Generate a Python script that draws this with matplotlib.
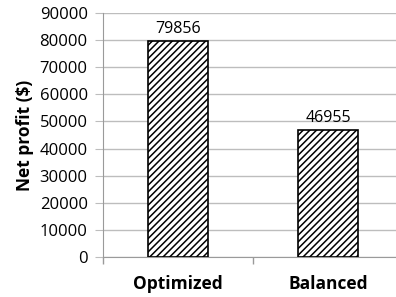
import matplotlib.pyplot as plt
from matplotlib.ticker import MultipleLocator, FixedLocator

plt.rcParams['font.family'] = ['Open Sans', 'DejaVu Sans']
plt.rcParams['hatch.linewidth'] = 1.1

categories = ['Optimized', 'Balanced']
profits = [79856, 46955]

fig = plt.figure(figsize=(3.96, 2.97), dpi=100)
ax = fig.add_axes([0.260, 0.1347, 0.758, 0.8215])

x = range(len(categories))
bars = ax.bar(x, profits, width=0.4, color='white', edgecolor='black',
              linewidth=1.2, hatch='/////', zorder=3)

for xi, v in zip(x, profits):
    ax.text(xi, v + 1200, str(v), ha='center', va='bottom', fontsize=11.5)

ax.set_xlim(-0.5, 1.5)
ax.set_ylim(0, 90000)
ax.yaxis.set_major_locator(MultipleLocator(10000))
ax.yaxis.grid(True, color='#bdbdbd', linewidth=1.0, zorder=0)

ax.set_xticks(list(x))
ax.set_xticklabels(categories, fontsize=12.5, fontweight='bold')
ax.xaxis.set_minor_locator(FixedLocator([-0.5, 0.5, 1.5]))
ax.tick_params(axis='x', which='major', length=0, pad=13)
ax.tick_params(axis='x', which='minor', length=5, color='#9a9a9a', width=1.0)
ax.tick_params(axis='y', length=6, color='#bdbdbd', labelsize=12, pad=5)

for s in ['top', 'right']:
    ax.spines[s].set_visible(False)
for s in ['left', 'bottom']:
    ax.spines[s].set_color('#9a9a9a')

ax.set_ylabel('Net profit ($)', fontsize=12.5, fontweight='bold', labelpad=4)

fig.savefig('out.png', dpi=100)
